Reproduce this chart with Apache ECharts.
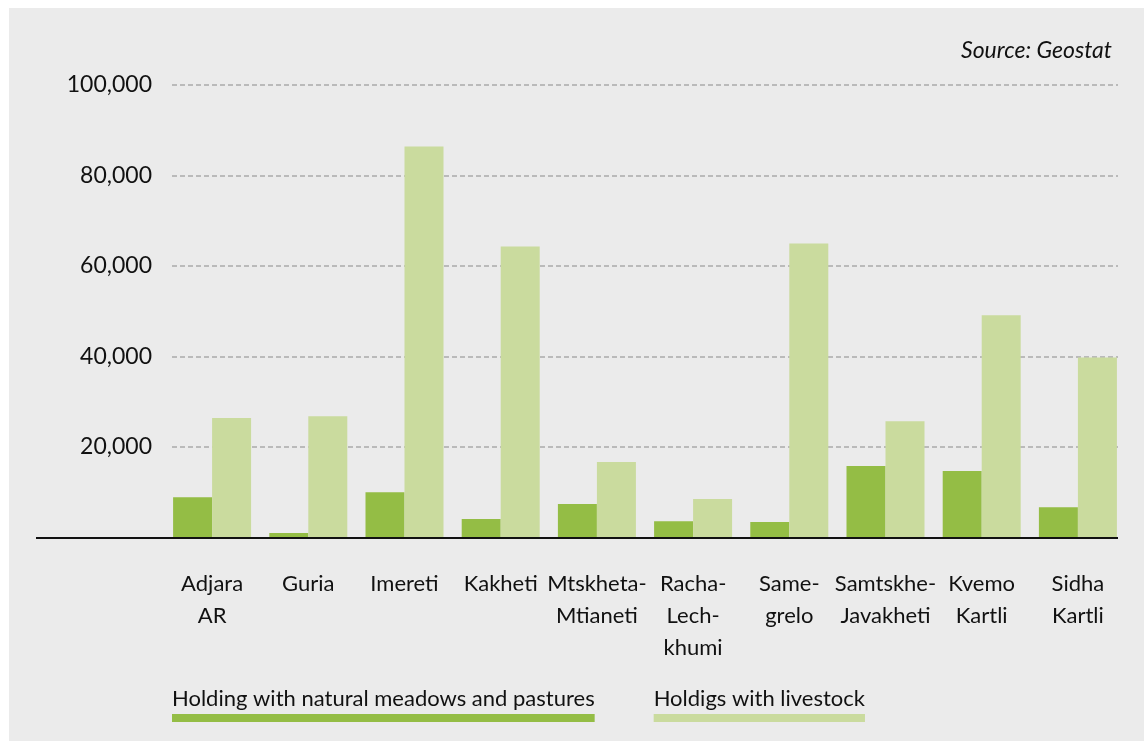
<!DOCTYPE html>
<html>
<head>
<meta charset="utf-8">
<script src="https://cdn.jsdelivr.net/npm/echarts@6/dist/echarts.min.js"></script>
<style>
  body { margin: 0; background: #fff; }
  #bg { position: absolute; left: 9px; top: 8px; width: 1135px; height: 733px; background: #ebebeb; }
  #main { position: absolute; left: 0; top: 0; width: 1146px; height: 749px; }
</style>
</head>
<body>
<div id="bg"></div>
<div id="main"></div>
<script>
// regions (line breaks as in the original labels)
var regions = ['Adjara\nAR', 'Guria', 'Imereti', 'Kakheti', 'Mtskheta-\nMtianeti',
  'Racha-\nLech-\nkhumi', 'Same-\ngrelo', 'Samtskhe-\nJavakheti', 'Kvemo\nKartli', 'Sidha\nKartli'];
var meadows = [8900, 1000, 10000, 4100, 7400, 3600, 3400, 15800, 14700, 6700];
var livestock = [26400, 26800, 86400, 64300, 16700, 8500, 65000, 25700, 49100, 39800];
var seriesNames = ['Holding with natural meadows and pastures', 'Holdigs with livestock'];
var yTicks = [0, 20000, 40000, 60000, 80000, 100000];

var dark = '#94bd45', light = '#cadb9e';
var font = 'Lato';

var chart = echarts.init(document.getElementById('main'));
chart.setOption({
  backgroundColor: 'transparent',
  animation: false,
  textStyle: { fontFamily: font },
  grid: [
    { left: 164, width: 962, top: 85, height: 452.5 },   // bars
    { left: 172, width: 946, top: 85, height: 452.5 }    // grid lines + labels
  ],
  xAxis: [
    { type: 'category', gridIndex: 0, data: regions,
      axisLine: { show: false }, axisTick: { show: false },
      axisLabel: { margin: 30, fontSize: 22, lineHeight: 32, color: '#111', fontFamily: font, interval: 0 } },
    { type: 'category', gridIndex: 1, data: regions, show: false }
  ],
  yAxis: [
    { type: 'value', gridIndex: 0, min: 0, max: yTicks[yTicks.length - 1], interval: 20000, show: false },
    { type: 'value', gridIndex: 1, min: 0, max: yTicks[yTicks.length - 1], interval: yTicks[1] - yTicks[0],
      axisLine: { show: false }, axisTick: { show: false },
      axisLabel: { margin: 20, fontSize: 23, color: '#111', fontFamily: font,
        formatter: function (v) { return v === 0 ? '' : v.toLocaleString('en-US'); } },
      splitLine: { lineStyle: { color: '#aaaaaa', width: 1.5, type: [5, 3] } } }
  ],
  legend: {
    left: 162, top: 683, selectedMode: false,
    icon: 'rect', itemWidth: 0, itemHeight: 0, itemTextGap: 0, itemGap: 54,
    data: seriesNames,
    formatter: function (name) {
      return '{t|' + name + '}\n{u' + seriesNames.indexOf(name) + '|}';
    },
    textStyle: {
      rich: {
        t: { fontSize: 22, lineHeight: 30, color: '#111', fontFamily: font },
        u0: { width: '100%', height: 8, backgroundColor: dark },
        u1: { width: '100%', height: 8, backgroundColor: light }
      }
    }
  },
  graphic: [
    { type: 'text', right: 34, top: 39,
      style: { text: 'Source: Geostat', font: 'italic 23px Lato', fill: '#111' } },
    { type: 'line', z: 10, shape: { x1: 36, y1: 538, x2: 1118, y2: 538 },
      style: { stroke: '#111', lineWidth: 2 } }
  ],
  series: [
    { name: seriesNames[0], type: 'bar', xAxisIndex: 0, yAxisIndex: 0, data: meadows,
      barWidth: 39, barGap: 0, itemStyle: { color: dark } },
    { name: seriesNames[1], type: 'bar', xAxisIndex: 0, yAxisIndex: 0, data: livestock,
      barWidth: 39, barGap: 0, itemStyle: { color: light } }
  ]
});
</script>
</body>
</html>
